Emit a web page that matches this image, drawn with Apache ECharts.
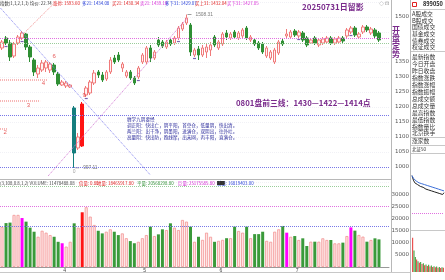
<!DOCTYPE html>
<html><head><meta charset="utf-8">
<script src="https://cdn.jsdelivr.net/npm/echarts@6/dist/echarts.min.js"></script>
<style>html,body{margin:0;padding:0;background:#fff}#c{width:445px;height:280px}</style>
</head><body><div id="c"></div>
<script>
// ---------- data ----------
const slots = 97; // 95 trading days + 2 empty slots on the right
const days = Array.from({length: slots}, (_, i) => 'D' + (i + 1));
const monthTicks = [[15, '4'], [35, '5'], [54, '6'], [73, '7']];

const opens = [1396.7,1430.0,1413.3,1370.0,1413.3,1430.0,1443.3,1400.0,1356.7,1310.0,
1323.3,1330.0,1323.3,1340.0,1310.0,1273.3,1270.0,1266.7,1196.7,1063.3,
1070.0,1240.0,1246.7,1280.0,1316.7,1306.7,1293.3,1316.7,1363.3,1373.3,
1330.0,1303.3,1316.7,1296.7,1300.0,1350.0,1350.0,1396.7,1363.3,1423.3,
1416.7,1400.0,1423.3,1413.3,1430.0,1460.0,1480.0,1473.3,1373.3,1393.3,
1373.3,1383.3,1390.0,1433.3,1396.7,1410.0,1446.7,1430.0,1450.0,1430.0,
1436.7,1463.3,1423.3,1423.3,1413.3,1410.0,1370.0,1363.3,1350.0,1380.0,
1420.0,1436.7,1433.3,1453.3,1436.7,1446.7,1430.0,1413.3,1430.0,1406.7,
1413.3,1416.7,1430.0,1413.3,1416.7,1430.0,1436.7,1450.0,1463.3,1433.3,
1450.0,1466.7,1446.7,1456.7,1446.7];
const closes = [1416.7,1413.3,1366.7,1410.0,1433.3,1446.7,1400.0,1366.7,1316.7,1330.0,
1346.7,1350.0,1343.3,1316.7,1276.7,1283.3,1280.0,1273.3,1046.7,1100.0,
1210.0,1263.3,1283.3,1313.3,1306.7,1290.0,1316.7,1356.7,1350.0,1356.7,
1343.3,1316.7,1296.7,1280.0,1330.0,1373.3,1396.7,1363.3,1383.3,1406.7,
1403.3,1416.7,1410.0,1430.0,1463.3,1476.7,1496.7,1383.3,1390.0,1373.3,
1396.7,1400.0,1406.7,1406.7,1416.7,1443.3,1433.3,1443.3,1433.3,1446.7,
1456.7,1430.0,1433.3,1410.0,1396.7,1383.3,1396.7,1383.3,1390.0,1416.7,
1410.0,1443.3,1450.0,1440.0,1450.0,1423.3,1406.7,1423.3,1413.3,1423.3,
1426.7,1430.0,1413.3,1426.7,1430.0,1420.0,1456.7,1463.3,1440.0,1443.3,
1466.7,1456.7,1460.0,1436.7,1423.3];
const lows = [1390.0,1406.7,1353.3,1363.3,1406.7,1423.3,1390.0,1350.0,1303.3,1296.7,
1316.7,1316.7,1313.3,1306.7,1270.0,1270.0,1263.3,1263.3,997.11,1056.7,
1066.7,1233.3,1240.0,1273.3,1296.7,1283.3,1286.7,1310.0,1343.3,1350.0,
1316.7,1296.7,1290.0,1273.3,1293.3,1343.3,1343.3,1350.0,1356.7,1400.0,
1396.7,1393.3,1403.3,1406.7,1423.3,1453.3,1473.3,1370.0,1366.7,1356.7,
1366.7,1363.3,1370.0,1400.0,1390.0,1403.3,1423.3,1423.3,1426.7,1423.3,
1430.0,1423.3,1416.7,1403.3,1390.0,1376.7,1363.3,1356.7,1343.3,1373.3,
1403.3,1430.0,1426.7,1433.3,1430.0,1416.7,1400.0,1410.0,1406.7,1400.0,
1406.7,1410.0,1406.7,1406.7,1410.0,1413.3,1430.0,1443.3,1433.3,1430.0,
1443.3,1450.0,1440.0,1430.0,1416.7];
const highs = [1423.3,1436.7,1423.3,1416.7,1440.0,1453.3,1446.7,1406.7,1363.3,1340.0,
1356.7,1356.7,1350.0,1346.7,1316.7,1290.0,1286.7,1276.7,1203.3,1113.3,
1216.7,1270.0,1290.0,1323.3,1323.3,1316.7,1323.3,1366.7,1373.3,1383.3,
1350.0,1323.3,1323.3,1303.3,1336.7,1380.0,1403.3,1406.7,1390.0,1433.3,
1423.3,1423.3,1430.0,1436.7,1470.0,1483.3,1508.31,1480.0,1396.7,1403.3,
1406.7,1410.0,1416.7,1440.0,1423.3,1450.0,1456.7,1450.0,1456.7,1453.3,
1463.3,1470.0,1440.0,1430.0,1420.0,1416.7,1403.3,1390.0,1396.7,1423.3,
1430.0,1460.0,1456.7,1460.0,1456.7,1453.3,1436.7,1430.0,1436.7,1430.0,
1433.3,1436.7,1436.7,1433.3,1436.7,1436.7,1463.3,1470.0,1470.0,1450.0,
1473.3,1473.3,1466.7,1463.3,1453.3];
const volumes = [16700,18300,18500,21700,21700,20400,18900,16400,14700,12600,
15100,14300,13300,12600,10500,9900,8500,10500,18200,16400,
22800,24900,21000,17500,15100,14000,14700,15700,14700,13300,
14000,12000,10800,9900,10500,12000,13300,16800,12900,13600,
15700,15400,18200,16400,15400,19600,18900,16800,10500,12600,
11300,14300,12600,10500,10900,11300,12000,12000,16800,15000,
14300,16800,12000,13700,13700,14700,10900,10500,14700,15700,
17100,14300,12600,12900,11250,11950,8750,10550,10550,10550,
11950,11250,11250,9850,9850,10150,12900,16500,15150,13350,
12650,10550,11250,11950,11500];
const highlightDays = [5, 15, 71, 87];
const crashDay = 18, reboundDay = 20, peakDay = 46;
const markerDays = [1, 5, 21, 34, 44, 48, 74, 87];
const levelLines = [1430, 1414, 1173.3, 1000];
const volLines = [33638.8, 25175.59, 16819.4];
// chart annotations in (day index, price)
const waveLabels = [[13, 1370, '6'], [10.3, 1280, '4'], [6.6, 1207, '3'], [0.8, 1117, '2'], [20.5, 1240, '9']];
const waveLevels = [[1290, 11.3], [1220, 9.5], [1126.7, 1.3]];
const trendLines = [
  [[-0.4, 1530], [37, 973.3]],
  [[5.3, 1443.3], [13.3, 1550]],
  [[11.5, 970], [46.2, 1496.7]]
];
const intradayPrice = [1446,1441,1438,1440,1436,1437,1434,1436,1433,1435,1431,1433,1430,1432,1429,1431,1428,1430,1427,1429,1426,1428,1425,1427];
const intradayAvg = [1446,1443,1441,1440,1439,1438,1437,1437,1436,1436,1435,1435,1434,1434,1433,1433,1432,1432,1431,1431,1430,1430,1429,1429];
const intradayVol = [95,60,42,35,30,26,28,22,24,19,21,17,20,15,18,14,16,13,15,12,14,11,13,12];
const prevClose = 1404;

// ---------- styles ----------
const CJK = '"Noto Sans CJK SC", "Noto Sans", sans-serif';
const PURPLE = '#7A2B8C';
const UP = '#F07A7A', UPFILL = '#FFF3F3', DOWN = '#2F8F34';

const kData = opens.map((o, i) => {
  const v = [o, closes[i], lows[i], highs[i]];
  if (i === crashDay) return {value: v, itemStyle: {color: '#157E7E', color0: '#157E7E', borderColor: '#157E7E', borderColor0: '#157E7E'}};
  if (i === reboundDay) return {value: v, itemStyle: {color: '#FF1414', borderColor: '#FF1414'}};
  return v;
});
const volData = volumes.map((v, i) => {
  let st;
  if (highlightDays.includes(i)) st = {color: '#FF00FF', borderWidth: 0};
  else if (i === reboundDay) st = {color: '#FF1414', borderWidth: 0};
  else if (closes[i] >= opens[i]) st = {color: '#FFE3E3', borderColor: '#F29494', borderWidth: 0.8};
  else st = {color: '#3A9A3A', borderWidth: 0};
  return {value: v, itemStyle: st};
});
const ivData = intradayVol.map((v, i) => ({value: v, itemStyle: {color: (i === 0 || intradayPrice[i] >= intradayPrice[i - 1]) ? '#E83030' : '#2F9A2F'}}));

const T = (x, y, text, fill, size, bold, extra) => ({type: 'text', x, y, silent: true, z: 100,
  style: Object.assign({text, fill, font: (bold ? 'bold ' : '') + size + 'px ' + CJK, verticalAlign: 'top', align: 'left'}, extra || {})});
const L = (x1, y1, x2, y2, stroke, dash) => ({type: 'line', silent: true, z: 90, shape: {x1, y1, x2, y2}, style: {stroke, lineWidth: 1, lineDash: dash || null}});

const graphics = [];
// header
[[0, '指数(1,1,2,1,1) 均价: 22.74', '#333'], [53, '涨停: 1593.60', '#E02020'], [82, '多21: 1434.08', '#2840D8'],
 [112, '买21: 1430.34', '#E02020'], [140, '卖21: 1439.18', '#D830D8'], [165, '多下31: 1429.07', '#2840D8'],
 [195, '买上31: 1432.04', '#E02020'], [227, '买下31: 1427.05', '#D830D8']].forEach(h => graphics.push(T(h[0], 1.5, h[1], h[2], 4.4)));
graphics.push(T(302, 3, '20250731日留影', PURPLE, 8, true));
graphics.push(T(379, 1, '◇ ⊡', '#888', 5));
graphics.push(T(392, 26, '开\n盘\n定\n势', PURPLE, 8, true, {lineHeight: 8}));
graphics.push(T(236, 99, '0801盘前三线：1430—1422—1414点', PURPLE, 7.8, true));
// rule text block
const blockColor = '#2C2C9C';
graphics.push(T(127, 116.5, '缠学九阴要经', blockColor, 4.6));
['调正阳：快出亡，阴平阳，首空仓，低量阴，快出清。', '两兰阳：出干净，阴墨阳，进满仓，双阴出，往外吐。', '高量阴：快出防，跑线摩，出未网，丙丰阳，直满仓。']
  .forEach((s, k) => graphics.push(T(127, 122.5 + k * 6, s, blockColor, 4.6)));
// volume header
[[0, '(3,108,0.8,1,2) VOLUME: 11478488.08', '#444'], [79, '倍量: 0.80', '#E02020'], [97, '地量: 18465917.80', '#E02020'],
 [137, '平量: 20568298.80', '#2F8F34'], [178, '巨量: 25175585.80', '#D020D0'], [217, '低量: 16819403.00', '#2840D8']]
  .forEach(h => graphics.push(T(h[0], 181, h[1], h[2], 4.4)));
// frame lines
graphics.push(L(0, 179.5, 391, 179.5, '#B8B8B8'));
graphics.push(L(391.5, 0, 391.5, 272, '#B8B8B8'));
graphics.push(L(410.5, 0, 410.5, 280, '#B8B8B8'));
graphics.push(L(0, 272.5, 410, 272.5, '#C8C8C8'));
// tab bar
const tabs = [['ACD', 1], ['VOL-TDX', 12], ['特殊8图', 35], ['特战8图', 58], ['指标比较', 82], ['缠学UW强', 105], ['缠学UW-BS', 129],
  ['缠学UW副图', 152], ['上证对比', 177], ['MA2', 197], ['操作', 209], ['设置', 222], ['指标A', 364], ['模 板', 380], ['◀', 396], ['▶', 402], ['-', 426], ['+', 436]];
tabs.forEach(t => {
  graphics.push(T(t[0], 274, t[1], t[1] === '缠学UW-BS' ? '#E02020' : '#333', 4.6));
  graphics.push(L(t[0] - 1.5, 273, t[0] - 1.5, 280, '#D0D0D0'));
});
// side panel
graphics.push({type: 'rect', silent: true, shape: {x: 412.5, y: 2.5, width: 4, height: 4}, style: {stroke: '#E02020', fill: 'none', lineWidth: 1}});
graphics.push(T(423, 1.5, '899050', '#222', 5.6, true));
graphics.push(L(411, 9.5, 445, 9.5, '#C8C8C8'));
const panelRows = [[14, 'A股成交'], [20.8, 'B股成交'], [27.4, '国债成交'], [34, '基金成交'], [40.6, '债券成交'], [47.2, '权证成交'],
  [57, '最新指数'], [64, '今日开盘'], [71, '昨日收盘'], [78, '指数涨跌'], [85, '指数涨幅'], [92, '指数振幅'], [99.5, '总成交额'],
  [106.5, '总成交量'], [113, '最高指数'], [120, '最低指数'], [127, '指数量比'], [133.5, '北京换手'], [141, '涨家数']];
panelRows.forEach(r => graphics.push(T(412, r[0] - 3.2, r[1], '#333', 5.8)));
graphics.push(L(411, 51.5, 445, 51.5, '#C8C8C8'));
graphics.push(L(411, 137.5, 445, 137.5, '#C8C8C8'));
graphics.push(L(411, 145.5, 445, 145.5, '#C8C8C8'));
graphics.push(T(412, 147, '北证50', '#333', 4.5));
graphics.push(L(411, 153.5, 445, 153.5, '#C8C8C8'));
graphics.push(L(411, 230.5, 445, 230.5, '#C8C8C8'));

const monthIdx = monthTicks.map(m => m[0]);
const hiddenPrice = [950, 1400, 1450, 1550];

const option = {
  animation: false,
  backgroundColor: '#fff',
  grid: [
    {left: 0, top: 2, width: 389, height: 180},
    {left: 0, top: 185, width: 389, height: 82},
    {left: 412, top: 172, width: 32, height: 45},
    {left: 412, top: 236, width: 32, height: 36}
  ],
  xAxis: [
    {type: 'category', gridIndex: 0, data: days, boundaryGap: true, show: false},
    {type: 'value', gridIndex: 0, min: -0.5, max: slots - 0.5, show: false},
    {type: 'category', gridIndex: 1, data: days, boundaryGap: true,
      axisLine: {lineStyle: {color: '#999', width: 1}},
      axisTick: {alignWithLabel: true, length: 3, interval: (i) => monthIdx.includes(i), lineStyle: {color: '#666'}},
      axisLabel: {interval: (i) => monthIdx.includes(i), fontSize: 5, color: '#444', margin: 1, align: 'left', padding: [0, 0, 0, 1],
        formatter: (v, i) => { const m = monthTicks.find(t => t[0] === i); return m ? m[1] : ''; }}},
    {type: 'category', gridIndex: 2, data: intradayPrice.map((_, i) => i), show: false, boundaryGap: false},
    {type: 'category', gridIndex: 3, data: intradayVol.map((_, i) => i), show: false}
  ],
  yAxis: [
    {type: 'value', gridIndex: 0, position: 'right', min: 950, max: 1550, interval: 50,
      axisLine: {show: false}, axisTick: {show: false},
      splitLine: {show: true, lineStyle: {color: '#F1F1F6', type: 'dotted'}},
      axisLabel: {fontSize: 5.5, color: '#555', align: 'right', margin: 20, fontFamily: 'DejaVu Sans',
        formatter: (v) => hiddenPrice.includes(v) ? '' : String(v)}},
    {type: 'value', gridIndex: 1, position: 'right', min: 0, max: 34166.67, interval: 5000,
      axisLine: {show: false}, axisTick: {show: false}, splitLine: {show: false},
      axisLabel: {fontSize: 5.5, color: '#555', align: 'right', margin: 20, fontFamily: 'DejaVu Sans',
        formatter: (v) => (v === 0 || v > 30000) ? '' : String(v)}},
    {type: 'value', gridIndex: 2, min: 1400, max: 1450, show: false},
    {type: 'value', gridIndex: 3, min: 0, max: 100, show: false}
  ],
  graphic: graphics,
  series: [
    {type: 'candlestick', xAxisIndex: 0, yAxisIndex: 0, data: kData, barWidth: 3,
      itemStyle: {color: UPFILL, borderColor: UP, color0: DOWN, borderColor0: DOWN, borderWidth: 1},
      markLine: {silent: true, symbol: ['none', 'none'], label: {show: false},
        data: [
          {yAxis: levelLines[0], lineStyle: {color: '#E070E0', type: 'dotted', width: 1}},
          {yAxis: levelLines[1], lineStyle: {color: '#9ACC9A', type: 'dotted', width: 1}},
          {yAxis: levelLines[2], lineStyle: {color: '#7878E8', type: 'dotted', width: 1}},
          {yAxis: levelLines[3], lineStyle: {color: '#7878E8', type: 'dotted', width: 1}}
        ]}},
    ...trendLines.map((pts, k) => ({type: 'line', xAxisIndex: 1, yAxisIndex: 0, data: pts, symbol: 'none', silent: true,
      lineStyle: {color: ['#8484EE', '#F08C8C', '#D47AD4'][k], width: 1, type: 'dotted'}})),
    ...waveLevels.map(w => ({type: 'line', xAxisIndex: 1, yAxisIndex: 0, data: [[-0.5, w[0]], [w[1], w[0]]], symbol: 'none', silent: true,
      lineStyle: {color: '#F07070', width: 1, type: 'dotted'}})),
    {type: 'scatter', xAxisIndex: 1, yAxisIndex: 0, symbolSize: 0, silent: true,
      data: waveLabels.map(w => ({value: [w[0], w[1]], name: w[2]})),
      label: {show: true, position: 'inside', formatter: (p) => p.name, color: '#E03030', fontSize: 6}},
    {type: 'scatter', xAxisIndex: 1, yAxisIndex: 0, symbolSize: 0, silent: true,
      data: [{value: [crashDay, 983], name: '0'}],
      label: {show: true, position: 'inside', formatter: (p) => p.name, color: '#888', fontSize: 5}},
    {type: 'scatter', xAxisIndex: 1, yAxisIndex: 0, symbol: 'rect', symbolSize: [4, 0.8], symbolOffset: [3, 0], silent: true,
      itemStyle: {color: '#666'},
      data: [{value: [crashDay, lows[crashDay]], name: lows[crashDay].toFixed(2)}, {value: [peakDay, highs[peakDay]], name: highs[peakDay].toFixed(2)}],
      label: {show: true, position: 'right', distance: 4, formatter: (p) => p.name, color: '#555', fontSize: 4.8}},
    {type: 'scatter', xAxisIndex: 0, yAxisIndex: 0, symbol: 'rect', symbolSize: [3, 1.2], symbolOffset: [0, 1.5], silent: true,
      itemStyle: {color: '#5B3A9B'}, data: markerDays.map(i => [i, lows[i]])},
    {type: 'bar', xAxisIndex: 2, yAxisIndex: 1, data: volData, barWidth: 3,
      markLine: {silent: true, symbol: ['none', 'none'], label: {show: false},
        data: [
          {yAxis: volLines[0], lineStyle: {color: '#9ACC9A', type: 'dotted', width: 1}},
          {yAxis: volLines[1], lineStyle: {color: '#E070E0', type: 'dotted', width: 1}},
          {yAxis: volLines[2], lineStyle: {color: '#7878E8', type: 'dotted', width: 1}}
        ]}},
    {type: 'line', xAxisIndex: 3, yAxisIndex: 2, data: intradayPrice, symbol: 'none', lineStyle: {color: '#222', width: 1},
      markLine: {silent: true, symbol: ['none', 'none'], label: {show: false},
        data: [{yAxis: prevClose, lineStyle: {color: '#E070E0', type: 'dotted', width: 1}}]}},
    {type: 'line', xAxisIndex: 3, yAxisIndex: 2, data: intradayAvg, symbol: 'none', lineStyle: {color: '#3C6FD8', width: 1}},
    {type: 'bar', xAxisIndex: 4, yAxisIndex: 3, data: ivData, barWidth: 1}
  ]
};
const chart = echarts.init(document.getElementById('c'), null, {renderer: 'canvas'});
chart.setOption(option);
</script></body></html>
